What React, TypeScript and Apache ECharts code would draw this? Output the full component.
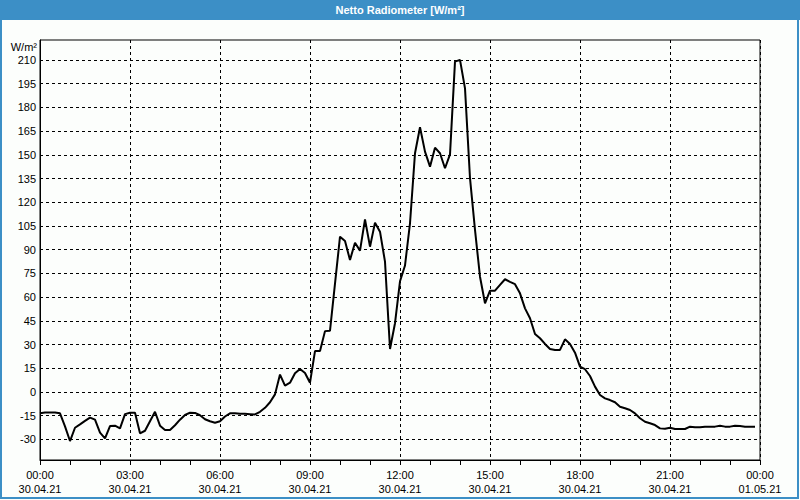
import React, { useEffect, useRef } from "react";
import * as echarts from "echarts";

// Net radiation, 30.04.21 00:00 .. 23:50, one sample every 10 minutes (W/m²)
const sampleStepMinutes = 10;
const netRadiation: number[] = [
  -13.5, -13, -12.9, -12.9, -13.5, -21.7, -31, -22.6, -20.5, -18.3,
  -16.2, -17.5, -25.7, -29.3, -21.5, -21.3, -23, -14, -13.1, -13.1,
  -26.1, -24.5, -18.5, -12.5, -21.3, -24, -24, -21, -17.5, -14.5,
  -13.1, -13.2, -14.7, -17.2, -18.5, -19.4, -18.5, -15.5, -13.5, -13.5,
  -13.8, -13.8, -14, -14.2, -12.5, -10, -6.5, -1.5, 11, 4,
  5.9, 11.8, 14.5, 12, 5.9, 25.9, 25.9, 38.5, 38.8, 68.5,
  98.2, 95.5, 83.5, 94.4, 89.4, 109.2, 91.9, 107.1, 101.4, 82.4,
  27.2, 43.5, 70, 80, 106.7, 151, 167.4, 152, 142.5, 154.5,
  151, 141.5, 150.3, 208.9, 210, 192, 135.2, 102.5, 72.9, 56.1,
  64.1, 64.1, 67.7, 71.3, 69.6, 68.2, 62.4, 52.9, 46.6, 36.7,
  34, 30.4, 27.2, 26.6, 26.6, 33.3, 30.4, 24.9, 16, 14.4,
  10.1, 3.4, -1.9, -4, -5.1, -6.5, -9.3, -10.3, -11.4, -13.5,
  -16.6, -18.8, -19.8, -20.9, -23, -23.2, -22.6, -23.4, -23.4, -23.4,
  -21.9, -22.3, -22.3, -21.9, -21.9, -21.9, -21.3, -21.9, -21.9, -21.3,
  -21.5, -21.9, -21.9, -21.9,
];

const yTickValues = [-30, -15, 0, 15, 30, 45, 60, 75, 90, 105, 120, 135, 150, 165, 180, 195, 210];
const xTickTimes = ["00:00", "03:00", "06:00", "09:00", "12:00", "15:00", "18:00", "21:00", "00:00"];
const xTickDates = ["30.04.21", "30.04.21", "30.04.21", "30.04.21", "30.04.21", "30.04.21", "30.04.21", "30.04.21", "01.05.21"];

const TITLE = "Netto Radiometer [W/m²]";
const UNIT = "W/m²";

export default function App() {
  const ref = useRef<HTMLDivElement>(null);
  useEffect(() => {
    if (!ref.current) return;
    const chart = echarts.init(ref.current, undefined, { renderer: "svg" });
    const data = netRadiation.map((v, i) => [(i * sampleStepMinutes) / 60, v]);
    const font = "Liberation Sans";
    chart.setOption({
      animation: false,
      backgroundColor: "#fcfefc",
      textStyle: { fontFamily: font },
      graphic: [
        { type: "rect", shape: { x: 0, y: 0, width: 800, height: 20 }, style: { fill: "#3c8fc6" }, z: 10 },
        {
          type: "text",
          x: 400,
          y: 10,
          style: { text: TITLE, fill: "#ffffff", font: `bold 11px "${font}"`, align: "center", verticalAlign: "middle" },
          z: 11,
        },
        { type: "rect", shape: { x: 1, y: 1, width: 797, height: 497 }, style: { fill: "none", stroke: "#3c8fc6", lineWidth: 2 }, z: 9 },
        {
          type: "text",
          x: 37,
          y: 47,
          style: { text: UNIT, fill: "#000", font: `11px "${font}"`, align: "right", verticalAlign: "middle" },
          z: 11,
        },
      ],
      grid: {
        left: 40,
        top: 40,
        width: 720,
        height: 420,
        show: true,
        borderColor: "#000",
        borderWidth: 1,
        backgroundColor: "#fcfefc",
      },
      xAxis: {
        type: "value",
        min: 0,
        max: 24,
        interval: 3,
        axisLine: { onZero: false, lineStyle: { color: "#000", width: 1 } },
        axisTick: { show: true, length: 5, lineStyle: { color: "#000" } },
        minorTick: { show: true, splitNumber: 3, length: 5, lineStyle: { color: "#000" } },
        splitLine: { show: true, lineStyle: { color: "#000", type: [3, 3], width: 1 } },
        axisLabel: {
          color: "#000",
          fontSize: 11,
          fontFamily: font,
          lineHeight: 14,
          margin: 8,
          showMinLabel: true,
          showMaxLabel: true,
          formatter: (v: number) => {
            const i = Math.round(v / 3);
            return `${xTickTimes[i]}\n${xTickDates[i]}`;
          },
        },
      },
      yAxis: {
        type: "value",
        min: -43,
        max: 222.6,
        axisLine: { show: true, lineStyle: { color: "#000", width: 1 } },
        axisTick: { show: false, customValues: yTickValues },
        splitLine: { show: true, lineStyle: { color: "#000", type: [3, 3], width: 1 } },
        axisLabel: { color: "#000", fontSize: 11, fontFamily: font, margin: 4, customValues: yTickValues },
      },
      series: [
        {
          type: "line",
          data,
          showSymbol: false,
          symbol: "none",
          lineStyle: { color: "#000", width: 2 },
        },
      ],
    });
    return () => chart.dispose();
  }, []);
  return <div ref={ref} style={{ position: "fixed", left: 0, top: 0, width: 800, height: 500 }} />;
}
